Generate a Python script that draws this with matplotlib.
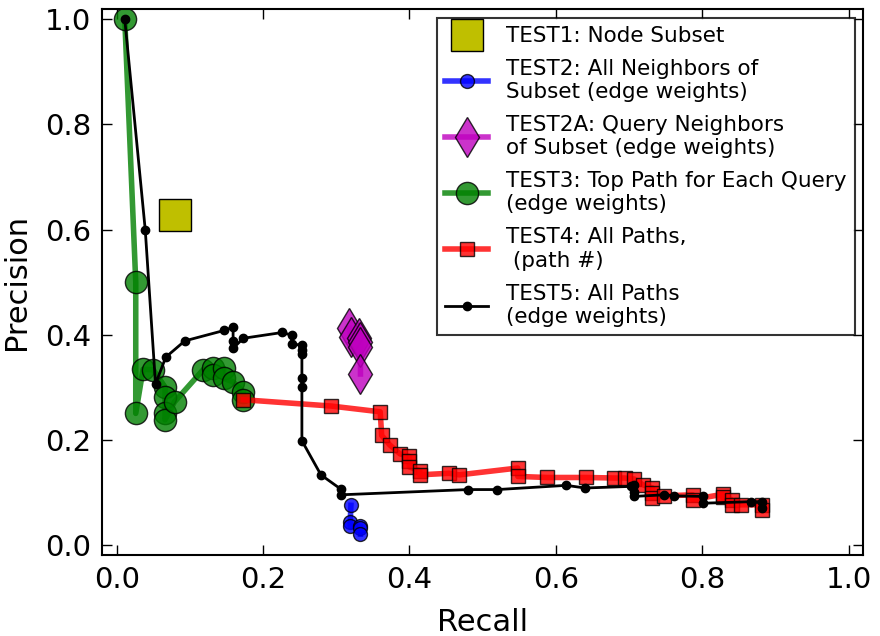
import numpy as np
import matplotlib
matplotlib.use('Agg')
import matplotlib.pyplot as plt

# TEST1: node subset (single point)
t1_rec = [0.079]
t1_prec = [0.627]

# TEST2: all neighbors of subset
t2_rec = [0.320, 0.319, 0.319, 0.333, 0.333, 0.333]
t2_prec = [0.075, 0.044, 0.035, 0.035, 0.031, 0.020]

# TEST2A: query neighbors of subset
t2a_rec = [0.318, 0.320, 0.331, 0.333, 0.333, 0.333]
t2a_prec = [0.412, 0.395, 0.393, 0.385, 0.377, 0.325]

# TEST3: top path for each query
t3_rec = [0.011, 0.026, 0.026, 0.036, 0.050, 0.066, 0.066, 0.066, 0.066,
          0.079, 0.118, 0.132, 0.132, 0.146, 0.146, 0.159, 0.173, 0.173]
t3_prec = [1.000, 0.500, 0.250, 0.334, 0.333, 0.300, 0.282, 0.250, 0.238,
           0.272, 0.333, 0.336, 0.323, 0.336, 0.317, 0.310, 0.291, 0.276]

# TEST4: all paths (path #)
t4_rec = [0.173, 0.293, 0.360, 0.362, 0.373, 0.387, 0.400, 0.400, 0.400,
          0.414, 0.414, 0.454, 0.468, 0.548, 0.548, 0.588, 0.641, 0.680,
          0.694, 0.707, 0.719, 0.732, 0.732, 0.732, 0.748, 0.787, 0.787,
          0.828, 0.828, 0.840, 0.840, 0.853, 0.881, 0.881]
t4_prec = [0.276, 0.264, 0.253, 0.208, 0.190, 0.173, 0.168, 0.160, 0.148,
           0.141, 0.133, 0.136, 0.133, 0.146, 0.130, 0.128, 0.128, 0.127,
           0.127, 0.125, 0.114, 0.108, 0.098, 0.089, 0.093, 0.095, 0.086,
           0.096, 0.090, 0.086, 0.076, 0.076, 0.076, 0.067]

# TEST5: all paths (edge weights)
t5_rec = [0.011, 0.039, 0.053, 0.067, 0.093, 0.147, 0.159, 0.159, 0.159,
          0.173, 0.226, 0.239, 0.239, 0.253, 0.253, 0.253, 0.253, 0.253,
          0.253, 0.279, 0.306, 0.306, 0.480, 0.520, 0.614, 0.640, 0.702,
          0.707, 0.707, 0.707, 0.748, 0.762, 0.801, 0.801, 0.867, 0.881, 0.881]
t5_prec = [1.000, 0.599, 0.306, 0.357, 0.388, 0.408, 0.414, 0.387, 0.374,
           0.393, 0.404, 0.399, 0.382, 0.380, 0.371, 0.364, 0.317, 0.301,
           0.198, 0.133, 0.106, 0.095, 0.105, 0.105, 0.113, 0.108, 0.111,
           0.114, 0.101, 0.092, 0.095, 0.093, 0.092, 0.079, 0.082, 0.082, 0.070]

fig = plt.figure(figsize=(8.8, 6.36), dpi=100)
ax = fig.add_axes([0.116, 0.127, 0.865, 0.859])

ax.plot(t1_rec, t1_prec, 's', color=(0.75, 0.75, 0), markersize=23,
        markeredgecolor='k', markeredgewidth=1, label='TEST1: Node Subset')
ax.plot(t2_rec, t2_prec, '-o', color='b', lw=4, markersize=10, alpha=0.8,
        markeredgecolor='k', label='TEST2: All Neighbors of\nSubset (edge weights)')
ax.plot(t2a_rec, t2a_prec, '-d', color='m', lw=4, markersize=20, alpha=0.8,
        markeredgecolor='k', label='TEST2A: Query Neighbors\nof Subset (edge weights)')
ax.plot(t3_rec, t3_prec, '-o', color='g', lw=4, markersize=16, alpha=0.8,
        markeredgecolor='k', label='TEST3: Top Path for Each Query\n(edge weights)')
ax.plot(t4_rec, t4_prec, '-s', color='r', lw=4, markersize=10, alpha=0.8,
        markeredgecolor='k', label='TEST4: All Paths,\n (path #)')
ax.plot(t5_rec, t5_prec, '-o', color='k', lw=2, markersize=6,
        label='TEST5: All Paths\n(edge weights)')

ax.set_xlim(-0.02, 1.02)
ax.set_ylim(-0.02, 1.02)
ax.set_xticks(np.arange(0, 1.01, 0.2))
ax.set_yticks(np.arange(0, 1.01, 0.2))
ax.tick_params(direction='in', top=True, right=True, length=7, width=1,
               labelsize=21, pad=8)
for s in ax.spines.values():
    s.set_linewidth(1.5)

ax.set_xlabel('Recall', fontsize=22, labelpad=10)
ax.set_ylabel('Precision', fontsize=22, labelpad=10)

leg = ax.legend(loc='upper right', fontsize=15.5, numpoints=1, fancybox=False,
                borderaxespad=0.4, handlelength=2.0, labelspacing=0.6,
                borderpad=0.4)
leg.get_frame().set_edgecolor('k')
leg.get_frame().set_linewidth(1.5)

fig.savefig('out.png', dpi=100)
